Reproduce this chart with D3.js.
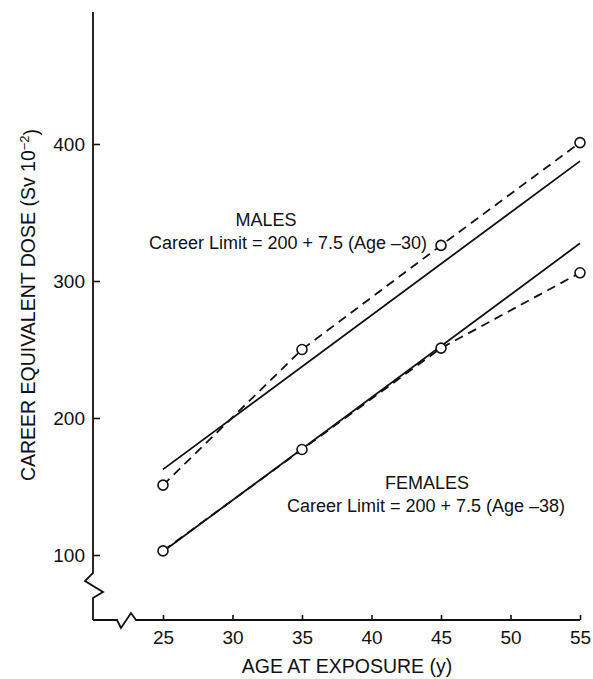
<!DOCTYPE html>
<html>
<head>
<meta charset="utf-8">
<script src="https://cdn.jsdelivr.net/npm/d3@7"></script>
<style>
  html, body { margin: 0; padding: 0; background: #fff; }
  svg { display: block; font-family: "Liberation Sans", Arial, Helvetica, sans-serif; }
</style>
</head>
<body>
<svg id="chart" width="593" height="679"></svg>
<script>
// Ages at exposure (years)
const ages = [25, 35, 45, 55];
// Career equivalent dose values (Sv 10^-2)
const malesDose = [151, 250, 326, 401];
const femalesDose = [103, 177, 251, 306];
// Career limit formula endpoints: 200 + 7.5 (Age - offset)
const limitAges = [25, 55];
const maleOffset = 30;
const femaleOffset = 38;
// Axis ticks
const xTicks = [25, 30, 35, 40, 45, 50, 55];
const yTicks = [100, 200, 300, 400];

const svg = d3.select("#chart");
const ink = "#111";

const x = d3.scaleLinear().domain([25, 55]).range([163, 580]);
const y = d3.scaleLinear().domain([100, 400]).range([555, 144]);

const axisX0 = 93, axisY0 = 620;

// Axis lines with scale-break zigzags
svg.append("path")
  .attr("d", `M${axisX0},12 L${axisX0},573 L85,581 L103,592 L${axisX0},598 L${axisX0},${axisY0}`)
  .attr("fill", "none").attr("stroke", ink).attr("stroke-width", 1.8).attr("stroke-linejoin", "miter");
svg.append("path")
  .attr("d", `M${axisX0},${axisY0} L117,${axisY0} L121,628 L131,613 L136,${axisY0} L${x(55)},${axisY0}`)
  .attr("fill", "none").attr("stroke", ink).attr("stroke-width", 1.8);

// Bottom axis: ticks point inward
const gx = svg.append("g")
  .attr("transform", `translate(0,${axisY0})`)
  .call(d3.axisBottom(x).tickValues(xTicks).tickSizeInner(-5).tickSizeOuter(0).tickPadding(11));
gx.select(".domain").remove();
gx.selectAll(".tick line").attr("stroke", ink).attr("stroke-width", 1.6);
gx.selectAll(".tick text").attr("fill", ink).style("font-size", "19px").style("font-family", null);

// Left axis: ticks point inward
const gy = svg.append("g")
  .attr("transform", `translate(${axisX0},0)`)
  .call(d3.axisLeft(y).tickValues(yTicks).tickSizeInner(-7).tickSizeOuter(0).tickPadding(8));
gy.select(".domain").remove();
gy.selectAll(".tick line").attr("stroke", ink).attr("stroke-width", 1.6);
gy.selectAll(".tick text").attr("fill", ink).style("font-size", "19px").style("font-family", null);

// Axis titles
svg.append("text")
  .attr("x", 347).attr("y", 673)
  .attr("text-anchor", "middle")
  .attr("fill", ink).style("font-size", "19.5px")
  .text("AGE AT EXPOSURE (y)");

const yTitle = svg.append("text")
  .attr("transform", "translate(35,305) rotate(-90)")
  .attr("text-anchor", "middle")
  .attr("fill", ink).style("font-size", "19.5px");
yTitle.append("tspan").text("CAREER EQUIVALENT DOSE (Sv 10");
yTitle.append("tspan").attr("dy", "-0.45em").style("font-size", "13px").text("\u22122");
yTitle.append("tspan").attr("dy", "0.45em").text(")");

// Career limit lines (solid)
const line = d3.line().x(d => x(d[0])).y(d => y(d[1]));
const limit = off => limitAges.map(a => [a, 200 + 7.5 * (a - off)]);

svg.append("path").datum(limit(maleOffset))
  .attr("d", line).attr("fill", "none").attr("stroke", ink).attr("stroke-width", 1.8);
svg.append("path").datum(limit(femaleOffset))
  .attr("d", line).attr("fill", "none").attr("stroke", ink).attr("stroke-width", 1.8);

// Computed doses (dashed with open circles)
function series(values) {
  const pts = ages.map((a, i) => [a, values[i]]);
  svg.append("path").datum(pts)
    .attr("d", line).attr("fill", "none").attr("stroke", ink)
    .attr("stroke-width", 1.8).attr("stroke-dasharray", "9,6");
  svg.append("g").selectAll("circle").data(pts).join("circle")
    .attr("cx", d => x(d[0])).attr("cy", d => y(d[1])).attr("r", 5)
    .attr("fill", "#fff").attr("stroke", ink).attr("stroke-width", 1.6);
}
series(malesDose);
series(femalesDose);

// Annotations
svg.append("text").attr("x", 266).attr("y", 226).attr("text-anchor", "middle")
  .attr("fill", ink).style("font-size", "18px").text("MALES");
svg.append("text").attr("x", 288).attr("y", 249).attr("text-anchor", "middle")
  .attr("fill", ink).style("font-size", "18px").text("Career Limit = 200 + 7.5 (Age \u201330)");

svg.append("text").attr("x", 427).attr("y", 489).attr("text-anchor", "middle")
  .attr("fill", ink).style("font-size", "18px").text("FEMALES");
svg.append("text").attr("x", 426).attr("y", 512).attr("text-anchor", "middle")
  .attr("fill", ink).style("font-size", "18px").text("Career Limit = 200 + 7.5 (Age \u201338)");
</script>
</body>
</html>
